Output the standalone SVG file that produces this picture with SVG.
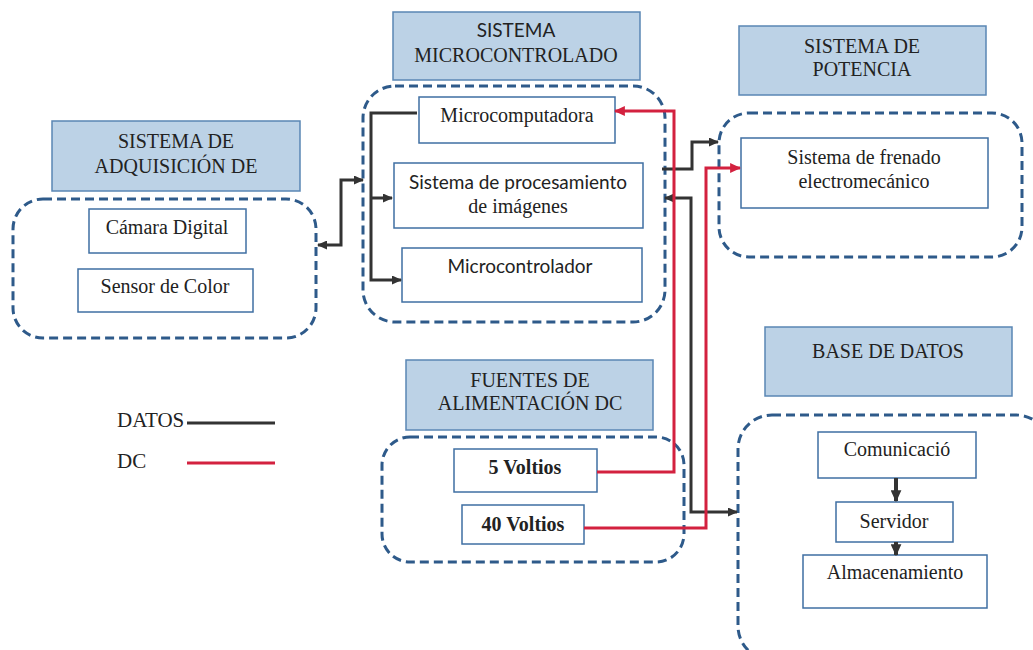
<svg xmlns="http://www.w3.org/2000/svg" width="1033" height="650" viewBox="0 0 1033 650">
  <defs>
    <style>
      .title { fill: #bcd2e6; stroke: #5a86b4; stroke-width: 1.5; }
      .group { fill: none; stroke: #2e5a8a; stroke-width: 3; stroke-dasharray: 9 5; }
      .box { fill: #ffffff; stroke: #3f6fa3; stroke-width: 1.5; }
      .serif { font-family: "Liberation Serif", "Times New Roman", serif; font-size: 20px; fill: #222222; text-anchor: middle; }
      .sans { font-family: Lato, "Liberation Sans", Arial, sans-serif; font-size: 19px; fill: #222222; text-anchor: middle; }
      .semibold { font-weight: 600; }
      .legend { font-family: "Liberation Serif", "Times New Roman", serif; font-size: 21px; fill: #222222; }
      .data { fill: none; stroke: #333333; stroke-width: 3; }
      .dc { fill: none; stroke: #d3213f; stroke-width: 3; }
      .flow { fill: none; stroke: #333333; stroke-width: 4; }
    </style>
    <marker id="arrowData" viewBox="0 0 10 9" refX="9" refY="4.5" markerWidth="10" markerHeight="9" markerUnits="userSpaceOnUse" orient="auto-start-reverse">
      <path d="M0,0 L10,4.5 L0,9 z" fill="#333333"/>
    </marker>
    <marker id="arrowDc" viewBox="0 0 10 9" refX="9" refY="4.5" markerWidth="11" markerHeight="10" markerUnits="userSpaceOnUse" orient="auto-start-reverse">
      <path d="M0,0 L10,4.5 L0,9 z" fill="#d3213f"/>
    </marker>
    <marker id="arrowFlow" viewBox="0 0 10 9" refX="9" refY="4.5" markerWidth="12" markerHeight="11" markerUnits="userSpaceOnUse" orient="auto">
      <path d="M0,0 L10,4.5 L0,9 z" fill="#333333"/>
    </marker>
  </defs>

  <rect width="1033" height="650" fill="#ffffff"/>

  <!-- Acquisition system -->
  <g id="adquisicion">
    <rect class="title" x="52" y="121" width="248" height="70"/>
    <text class="serif" x="176" y="148">SISTEMA DE</text>
    <text class="serif" x="176" y="173">ADQUISICIÓN DE</text>
    <rect class="group" x="13" y="199" width="303" height="139" rx="30"/>
    <rect class="box" x="89" y="209" width="157" height="44"/>
    <text class="serif" x="167" y="234">Cámara Digital</text>
    <rect class="box" x="78" y="269" width="175" height="43"/>
    <text class="serif" x="165" y="293">Sensor de Color</text>
  </g>

  <!-- Microcontroller system -->
  <g id="microcontrolado">
    <rect class="title" x="393" y="12" width="247" height="68"/>
    <text class="sans" x="516" y="37">SISTEMA</text>
    <text class="serif" x="516" y="62">MICROCONTROLADO</text>
    <rect class="group" x="363" y="86" width="302" height="236" rx="32"/>
    <rect class="box" x="419" y="97" width="196" height="46"/>
    <text class="serif" x="517" y="122">Microcomputadora</text>
    <rect class="box" x="394" y="163" width="249" height="65"/>
    <text class="sans" x="518" y="189">Sistema de procesamiento</text>
    <text class="serif" x="518" y="213">de imágenes</text>
    <rect class="box" x="402" y="248" width="240" height="54"/>
    <text class="sans" x="520" y="273">Microcontrolador</text>
  </g>

  <!-- Power system -->
  <g id="potencia">
    <rect class="title" x="739" y="26" width="247" height="69"/>
    <text class="serif" x="862" y="53">SISTEMA DE</text>
    <text class="serif" x="862" y="76">POTENCIA</text>
    <rect class="group" x="719" y="113" width="303" height="144" rx="30"/>
    <rect class="box" x="741" y="138" width="247" height="70"/>
    <text class="serif" x="864" y="164">Sistema de frenado</text>
    <text class="serif" x="864" y="188">electromecánico</text>
  </g>

  <!-- DC power supplies -->
  <g id="fuentes">
    <rect class="title" x="406" y="360" width="247" height="70"/>
    <text class="serif" x="530" y="387">FUENTES DE</text>
    <text class="serif" x="530" y="410">ALIMENTACIÓN DC</text>
    <rect class="group" x="382" y="437" width="302" height="125" rx="28"/>
    <rect class="box" x="454" y="449" width="143" height="43"/>
    <text class="serif semibold" x="525" y="474">5 Voltios</text>
    <rect class="box" x="462" y="505" width="122" height="39"/>
    <text class="serif semibold" x="523" y="531">40 Voltios</text>
  </g>

  <!-- Database -->
  <g id="base-datos">
    <rect class="title" x="765" y="327" width="247" height="69"/>
    <text class="serif" x="888" y="358">BASE DE DATOS</text>
    <rect class="group" x="738" y="415" width="312" height="245" rx="34"/>
    <rect class="box" x="818" y="432" width="158" height="46"/>
    <text class="serif" x="897" y="456">Comunicació</text>
    <rect class="box" x="836" y="502" width="117" height="40"/>
    <text class="serif" x="894" y="528">Servidor</text>
    <rect class="box" x="803" y="555" width="184" height="53"/>
    <text class="serif" x="895" y="579">Almacenamiento</text>
  </g>

  <!-- Legend -->
  <g id="leyenda">
    <text class="legend" x="117" y="427">DATOS</text>
    <line class="data" x1="187" y1="423" x2="275" y2="423"/>
    <text class="legend" x="117" y="468">DC</text>
    <line class="dc" x1="187" y1="463" x2="275" y2="463"/>
  </g>

  <!-- Connectors -->
  <g id="connectors">
    <!-- data: acquisition <-> microcontroller -->
    <path class="data" d="M318,245 H341 V180 H363" marker-start="url(#arrowData)" marker-end="url(#arrowData)"/>
    <!-- data: internal microcontroller bus -->
    <path class="data" d="M417,113 H371 V280 H401" marker-end="url(#arrowData)"/>
    <path class="data" d="M371,198 H392" marker-end="url(#arrowData)"/>
    <!-- data: microcontroller -> power -->
    <path class="data" d="M662,169 H692 V142 H718" marker-end="url(#arrowData)"/>
    <!-- data: microcontroller <-> database -->
    <path class="data" d="M665,198 H691 V512 H737" marker-start="url(#arrowData)" marker-end="url(#arrowData)"/>
    <!-- DC: 5 V -> microcomputer -->
    <path class="dc" d="M597,472 H674 V111 H615" marker-end="url(#arrowDc)"/>
    <!-- DC: 40 V -> braking system -->
    <path class="dc" d="M584,528 H706 V168 H740" marker-end="url(#arrowDc)"/>
    <!-- database internal flow -->
    <path class="flow" d="M896,478 V501" marker-end="url(#arrowFlow)"/>
    <path class="flow" d="M896,542 V555" marker-end="url(#arrowFlow)"/>
  </g>
</svg>
